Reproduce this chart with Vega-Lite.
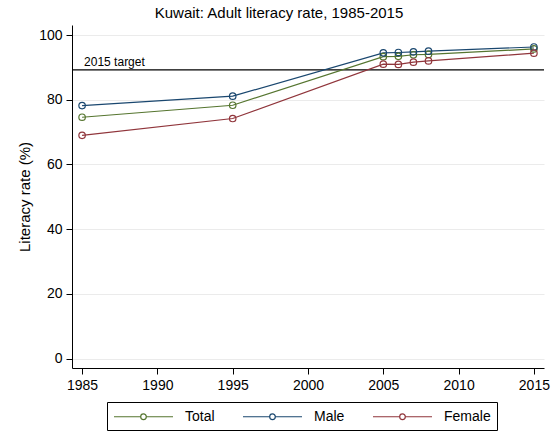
{
  "$schema": "https://vega.github.io/schema/vega-lite/v6.json",
  "width": 472,
  "height": 343,
  "autosize": {"type": "none"},
  "padding": {"left": 72, "top": 25, "right": 15, "bottom": 63},
  "background": "white",
  "title": {
    "text": "Kuwait: Adult literacy rate, 1985-2015",
    "fontSize": 15,
    "font": "Liberation Sans",
    "fontWeight": "normal",
    "color": "black",
    "anchor": "middle",
    "dx": -29
  },
  "config": {
    "view": {"stroke": null},
    "font": "Liberation Sans"
  },
  "datasets": {
    "lit": [
      {"year": 1985, "group": "Total", "rate": 74.6},
      {"year": 1995, "group": "Total", "rate": 78.3},
      {"year": 2005, "group": "Total", "rate": 93.3},
      {"year": 2006, "group": "Total", "rate": 93.4},
      {"year": 2007, "group": "Total", "rate": 93.9},
      {"year": 2008, "group": "Total", "rate": 94.0},
      {"year": 2015, "group": "Total", "rate": 95.7},
      {"year": 1985, "group": "Male", "rate": 78.2},
      {"year": 1995, "group": "Male", "rate": 81.1},
      {"year": 2005, "group": "Male", "rate": 94.5},
      {"year": 2006, "group": "Male", "rate": 94.6},
      {"year": 2007, "group": "Male", "rate": 94.8},
      {"year": 2008, "group": "Male", "rate": 95.0},
      {"year": 2015, "group": "Male", "rate": 96.3},
      {"year": 1985, "group": "Female", "rate": 69.0},
      {"year": 1995, "group": "Female", "rate": 74.2},
      {"year": 2005, "group": "Female", "rate": 91.0},
      {"year": 2006, "group": "Female", "rate": 90.9},
      {"year": 2007, "group": "Female", "rate": 91.6},
      {"year": 2008, "group": "Female", "rate": 92.0},
      {"year": 2015, "group": "Female", "rate": 94.4}
    ],
    "target": [
      {"label": "2015 target", "value": 89.2}
    ]
  },
  "layer": [
    {
      "data": {"name": "target"},
      "mark": {"type": "rule", "color": "black", "strokeWidth": 1.2},
      "encoding": {
        "y": {"field": "value", "type": "quantitative", "scale": {"domain": [-2.87, 103.09], "nice": false, "zero": false}}
      }
    },
    {
      "data": {"name": "target"},
      "mark": {"type": "text", "align": "left", "baseline": "bottom", "dx": 2, "dy": -1, "fontSize": 12, "color": "black"},
      "encoding": {
        "x": {"datum": 1985, "type": "quantitative"},
        "y": {"field": "value", "type": "quantitative"},
        "text": {"field": "label"}
      }
    },
    {
      "data": {"name": "lit"},
      "mark": {"type": "line", "strokeWidth": 1.2, "point": {"filled": false, "size": 42, "strokeWidth": 1.2}},
      "encoding": {
        "x": {
          "field": "year", "type": "quantitative",
          "scale": {"domain": [1984.33, 2015.67], "nice": false, "zero": false},
          "axis": {
            "values": [1985, 1990, 1995, 2000, 2005, 2010, 2015],
            "format": "d", "grid": false, "title": null,
            "domainColor": "black", "tickColor": "black", "tickSize": 6,
            "labelFontSize": 14, "labelColor": "black", "labelPadding": 4, "labelFlush": false
          }
        },
        "y": {
          "field": "rate", "type": "quantitative",
          "axis": {
            "values": [0, 20, 40, 60, 80, 100],
            "grid": true, "gridColor": "#ebebeb", "gridWidth": 1,
            "title": "Literacy rate (%)", "titleFontSize": 15, "titleFontWeight": "normal", "titleColor": "black", "titlePadding": 6,
            "domainColor": "black", "tickColor": "black", "tickSize": 6,
            "labelFontSize": 14, "labelColor": "black", "labelPadding": 4
          }
        },
        "color": {
          "field": "group", "type": "nominal",
          "scale": {"domain": ["Total", "Male", "Female"], "range": ["#55752f", "#1a476f", "#90353b"]},
          "legend": {
            "title": null,
            "orient": "none",
            "legendX": 35,
            "legendY": 377,
            "direction": "horizontal",
            "columns": 3,
            "symbolType": "M-1,0H2.56M3.307,0H6.867M3.307,0A0.373,0.373,0,1,1,2.56,0A0.373,0.373,0,1,1,3.307,0",
            "symbolSize": 225,
            "symbolStrokeWidth": 1.2,
            "symbolFillColor": "transparent",
            "labelFontSize": 14,
            "labelColor": "black",
            "labelOffset": 55,
            "columnPadding": 25,
            "padding": 6,
            "strokeColor": "black",
            "fillColor": "white"
          }
        }
      }
    }
  ]
}
